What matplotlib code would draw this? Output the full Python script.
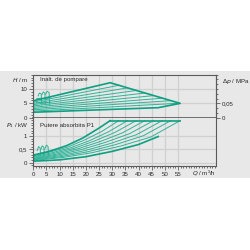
import matplotlib
matplotlib.use("Agg")
import matplotlib.pyplot as plt
from matplotlib.ticker import MultipleLocator, FixedLocator
from matplotlib.patches import Rectangle

plt.rcParams["font.family"] = ["Liberation Sans", "DejaVu Sans"]

# --- head curves (top panel) ---
env_q = [0, 0, 29.2, 55.8, 47.5, 0]
env_h = [1.9, 5.9, 12.2, 5.0, 3.5, 1.9]
# intermediate straight lines: start height at Q=0, end point on max curve
line_h0 = [5.45, 5.0, 4.55, 4.1, 3.65, 3.2, 2.75, 2.3]
line_qe = [32.5, 35.8, 39.1, 42.4, 45.7, 49.0, 52.3, 55.6]
line_he = [11.3, 10.4, 9.5, 8.6, 7.7, 6.8, 5.95, 5.05]

# small curves near the origin
sq_h_q = [[1.8, 2.3, 3.0, 3.2], [3.2, 3.8, 4.4, 4.6], [4.6, 5.3, 6.0, 6.2],
          [1.2, 2.5, 4.0, 6.5], [1.2, 2.5, 4.0, 6.5]]
sq_h_h = [[7.6, 8.6, 8.3, 4.6], [7.9, 9.0, 8.6, 4.6], [8.2, 9.2, 8.8, 4.6],
          [6.6, 6.8, 6.7, 6.9], [5.2, 5.3, 5.2, 5.4]]

# --- power curves (bottom panel) ---
p_top_q = [0, 6, 12.5, 18.75, 25, 29.2]
p_top_p = [0.28, 0.42, 0.63, 0.92, 1.3, 1.58]
p_bot_q = [0, 10, 20, 30, 40, 47.5]
p_bot_p = [0.05, 0.1, 0.22, 0.42, 0.68, 0.98]
p_flat_q = [29.2, 55.8]
p_flat_p = [1.58, 1.58]
p_mid_q = [
    [0, 6.5, 13, 19.5, 26, 32.5],
    [0, 7.2, 14.3, 21.5, 28.6, 35.8],
    [0, 7.8, 15.6, 23.5, 31.3, 39.1],
    [0, 8.5, 17, 25.4, 33.9, 42.4],
    [0, 9.1, 18.3, 27.4, 36.6, 45.7],
    [0, 9.8, 19.6, 29.4, 39.2, 49.0],
    [0, 10.5, 20.9, 31.4, 41.8, 52.3],
    [0, 11.2, 22.3, 33.5, 44.6, 55.8],
]
p_mid_p = [
    [0.25, 0.40, 0.58, 0.85, 1.17, 1.58],
    [0.22, 0.37, 0.56, 0.83, 1.16, 1.58],
    [0.19, 0.34, 0.54, 0.82, 1.15, 1.58],
    [0.16, 0.31, 0.52, 0.79, 1.12, 1.58],
    [0.14, 0.28, 0.49, 0.76, 1.09, 1.58],
    [0.12, 0.25, 0.45, 0.72, 1.05, 1.58],
    [0.10, 0.22, 0.41, 0.68, 1.01, 1.58],
    [0.08, 0.19, 0.37, 0.63, 0.96, 1.58],
]
sq_p_q = [[1.5, 2.0, 2.6, 2.8], [2.8, 3.4, 4.0, 4.2], [4.3, 5.0, 5.6, 5.8]]
sq_p_p = [[0.45, 0.60, 0.55, 0.25], [0.48, 0.63, 0.58, 0.27], [0.50, 0.66, 0.60, 0.30]]

x_ticks = list(range(0, 60, 5))
h_ticks = [0, 5, 10]
p_ticks = [0, 0.5, 1]
p_ticklabels = ["0", "0,5", "1"]
dp_ticks = [0, 0.05]
dp_ticklabels = ["0", "0,05"]

thick = "#0f9f82"
thin = "#2fb398"
bg = "#e8e8e8"
gridc = "#d0d0d0"
spc = "#5a5a5a"
txt = "#2a2a2a"
fs = 4.4

fig = plt.figure(figsize=(2.5, 2.5), dpi=100)
fig.patches.append(Rectangle((0, 0.2868), 1, 0.428, transform=fig.transFigure,
                             facecolor=bg, edgecolor="none", zorder=-10))

ax1 = fig.add_axes([0.1332, 0.5292, 0.7296, 0.172])
ax2 = fig.add_axes([0.1332, 0.3372, 0.7296, 0.192], sharex=ax1)

for ax in (ax1, ax2):
    ax.set_facecolor(bg)
    ax.set_xlim(0, 69.3)
    ax.xaxis.set_major_locator(FixedLocator(x_ticks))
    ax.xaxis.set_minor_locator(MultipleLocator(1))
    ax.grid(True, color=gridc, lw=0.9)
    ax.set_axisbelow(True)
    for s in ax.spines.values():
        s.set_color(spc)
        s.set_linewidth(0.8)
    ax.tick_params(which="both", colors="#444444", labelcolor=txt, labelsize=fs,
                   width=0.5, pad=1.5)
    ax.tick_params(which="major", length=3)
    ax.tick_params(which="minor", length=1.6)

# top panel
ax1.set_ylim(0, 15)
ax1.yaxis.set_major_locator(FixedLocator(h_ticks))
ax1.yaxis.set_minor_locator(MultipleLocator(1))
ax1.tick_params(axis="x", which="both", bottom=False, labelbottom=False)
ax1.spines["bottom"].set_linewidth(1.2)
for h0, qe, he in zip(line_h0, line_qe, line_he):
    ax1.plot([0, qe], [h0, he], color=thin, lw=0.7)
for q, h in zip(sq_h_q, sq_h_h):
    ax1.plot(q, h, color=thin, lw=0.7)
ax1.plot(env_q, env_h, color=thick, lw=1.2)
ax1.text(2.4, 13.2, "Inalt. de pompare", fontsize=fs, va="center", color=txt)

sec = ax1.secondary_yaxis("right", functions=(lambda h: h / 100, lambda d: d * 100))
sec.yaxis.set_major_locator(FixedLocator(dp_ticks))
sec.set_yticklabels(dp_ticklabels)
sec.yaxis.set_minor_locator(MultipleLocator(0.05 / 3))
sec.tick_params(which="both", colors="#444444", labelcolor=txt, labelsize=fs,
                width=0.5, pad=1.5)
sec.tick_params(which="major", length=3)
sec.tick_params(which="minor", length=1.6)
sec.spines["right"].set_color(spc)

# bottom panel
ax2.set_ylim(-0.12, 1.69)
ax2.yaxis.set_major_locator(FixedLocator(p_ticks))
ax2.set_yticklabels(p_ticklabels)
ax2.yaxis.set_minor_locator(MultipleLocator(0.1))
ax2.spines["top"].set_visible(False)
for q, p in zip(p_mid_q, p_mid_p):
    ax2.plot(q, p, color=thin, lw=0.7)
for q, p in zip(sq_p_q, sq_p_p):
    ax2.plot(q, p, color=thin, lw=0.7)
ax2.plot([0, 0], [p_bot_p[0], p_top_p[0]], color=thick, lw=1.0)
ax2.plot(p_top_q, p_top_p, color=thick, lw=1.2)
ax2.plot(p_flat_q, p_flat_p, color=thick, lw=1.2)
ax2.plot(p_bot_q, p_bot_p, color=thick, lw=1.2)
ax2.text(2.4, 1.38, "Putere absorbita P1", fontsize=fs, va="center", color=txt)

# axis titles
fig.text(0.113, 0.679, "$\\it{H}$ / m", fontsize=fs, ha="right", va="center", color=txt)
fig.text(0.113, 0.497, "$\\it{P}_1$ / kW", fontsize=fs, ha="right", va="center", color=txt)
fig.text(0.887, 0.673, "$\\it{\\Delta p}$ / MPa", fontsize=fs, ha="left", va="center", color=txt)
fig.text(0.8628, 0.311, "$\\it{Q}$ / m³/h", fontsize=fs, ha="right", va="center", color=txt)

fig.savefig("out.png", dpi=100)
